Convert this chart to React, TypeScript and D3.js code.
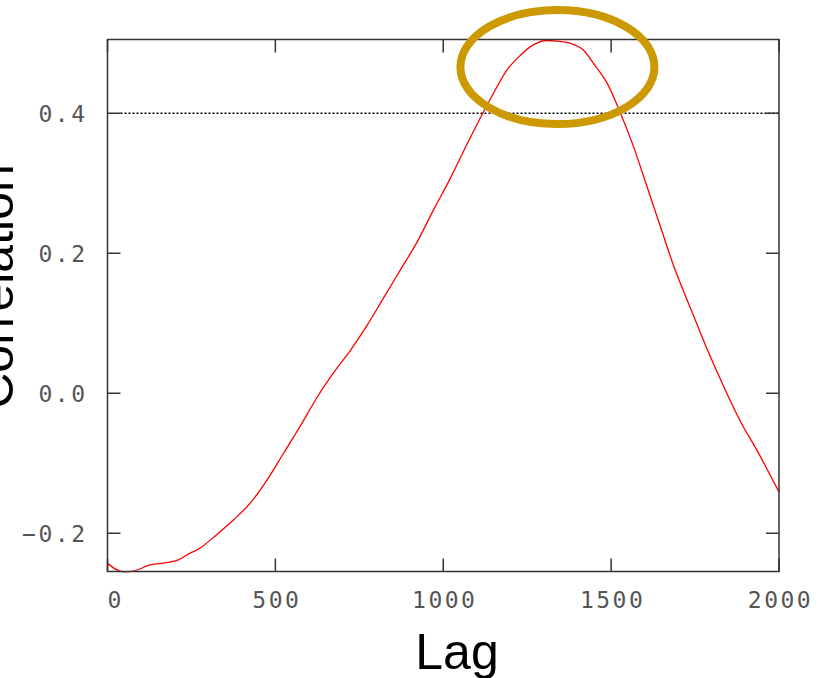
import React from "react";
import * as d3 from "d3";

const lags = [0, 27, 47, 77, 127, 176, 211, 236, 276, 325, 375, 425, 475, 524, 574, 624, 673, 723, 773, 822, 872, 922, 971, 1021, 1071, 1110, 1150, 1190, 1230, 1269, 1309, 1339, 1379, 1418, 1448, 1488, 1528, 1567, 1607, 1647, 1687, 1736, 1786, 1836, 1886, 1935, 2000];
const corr = [-0.243, -0.252, -0.255, -0.254, -0.245, -0.242, -0.238, -0.231, -0.221, -0.202, -0.181, -0.157, -0.124, -0.086, -0.047, -0.006, 0.029, 0.061, 0.097, 0.136, 0.176, 0.216, 0.262, 0.307, 0.356, 0.393, 0.429, 0.462, 0.483, 0.498, 0.504, 0.503, 0.5, 0.49, 0.471, 0.443, 0.4, 0.352, 0.295, 0.238, 0.181, 0.122, 0.063, 0.009, -0.041, -0.082, -0.141];

const xTicks = [0, 500, 1000, 1500, 2000];
const yTicks = [-0.2, 0.0, 0.2, 0.4];
const xDomain = [0, 2000];
const yDomain = [-0.2546, 0.5054];
const threshold = 0.4;
const highlight = { lag: 1340, corr: 0.466 };
const xLabel = "Lag";
const yLabel = "Correlation";

const W = 822, H = 678;
const L = 107.5, R = 779, T = 39.5, B = 571.5;
const TICK = 13;

export default function App() {
  const x = d3.scaleLinear().domain(xDomain).range([L, R]);
  const y = d3.scaleLinear().domain(yDomain).range([B, T]);
  const pts = lags.map((l, i) => [l, corr[i]] as [number, number]);
  const line = d3.line<[number, number]>().x(d => x(d[0])).y(d => y(d[1])).curve(d3.curveMonotoneX);
  const tickFont = { fontFamily: "'DejaVu Sans Mono', monospace", fontSize: 23, letterSpacing: 2.5, fill: "#555" } as any;
  const frame = "#333";
  return (
    <svg width={W} height={H} style={{ position: "absolute", left: 0, top: 0, display: "block", background: "#fff" }}>
      <line x1={x(xDomain[0]) + TICK} x2={R} y1={y(threshold)} y2={y(threshold)} stroke="#000" strokeWidth={1.5} strokeDasharray="2,2" />
      <path d={line(pts) || ""} fill="none" stroke="#ff0000" strokeWidth={1.3} />
      {yTicks.map(t => (
        <g key={"y" + t}>
          <line x1={L} x2={L + TICK} y1={y(t)} y2={y(t)} stroke={frame} strokeWidth={1.5} />
          <line x1={R - TICK} x2={R} y1={y(t)} y2={y(t)} stroke={frame} strokeWidth={1.5} />
          <text x={L - 20} y={y(t) + 9} textAnchor="end" style={tickFont}>{t < 0 ? "\u2212" + Math.abs(t).toFixed(1) : t.toFixed(1)}</text>
        </g>
      ))}
      {xTicks.map(t => (
        <g key={"x" + t}>
          <line x1={x(t)} x2={x(t)} y1={B} y2={B - TICK} stroke={frame} strokeWidth={1.5} />
          <line x1={x(t)} x2={x(t)} y1={T} y2={T + TICK} stroke={frame} strokeWidth={1.5} />
          <text x={t === xDomain[0] ? x(t) : x(t) + 1.5} y={608} textAnchor={t === xDomain[0] ? "start" : "middle"} style={tickFont}>{String(t)}</text>
        </g>
      ))}
      <rect x={L} y={T} width={R - L} height={B - T} fill="none" stroke={frame} strokeWidth={1.5} />
      <ellipse cx={x(highlight.lag)} cy={y(highlight.corr)} rx={97} ry={57} fill="none" stroke="#cc9900" strokeWidth={8} />
      <text x={457} y={669} textAnchor="middle" style={{ fontFamily: "'Liberation Sans', Arial, sans-serif", fontSize: 50, fill: "#000" }}>{xLabel}</text>
      <text transform={`translate(12.5,286.5) rotate(-90)`} textAnchor="middle" style={{ fontFamily: "'Liberation Sans', Arial, sans-serif", fontSize: 50, fill: "#000" }}>{yLabel}</text>
    </svg>
  );
}
